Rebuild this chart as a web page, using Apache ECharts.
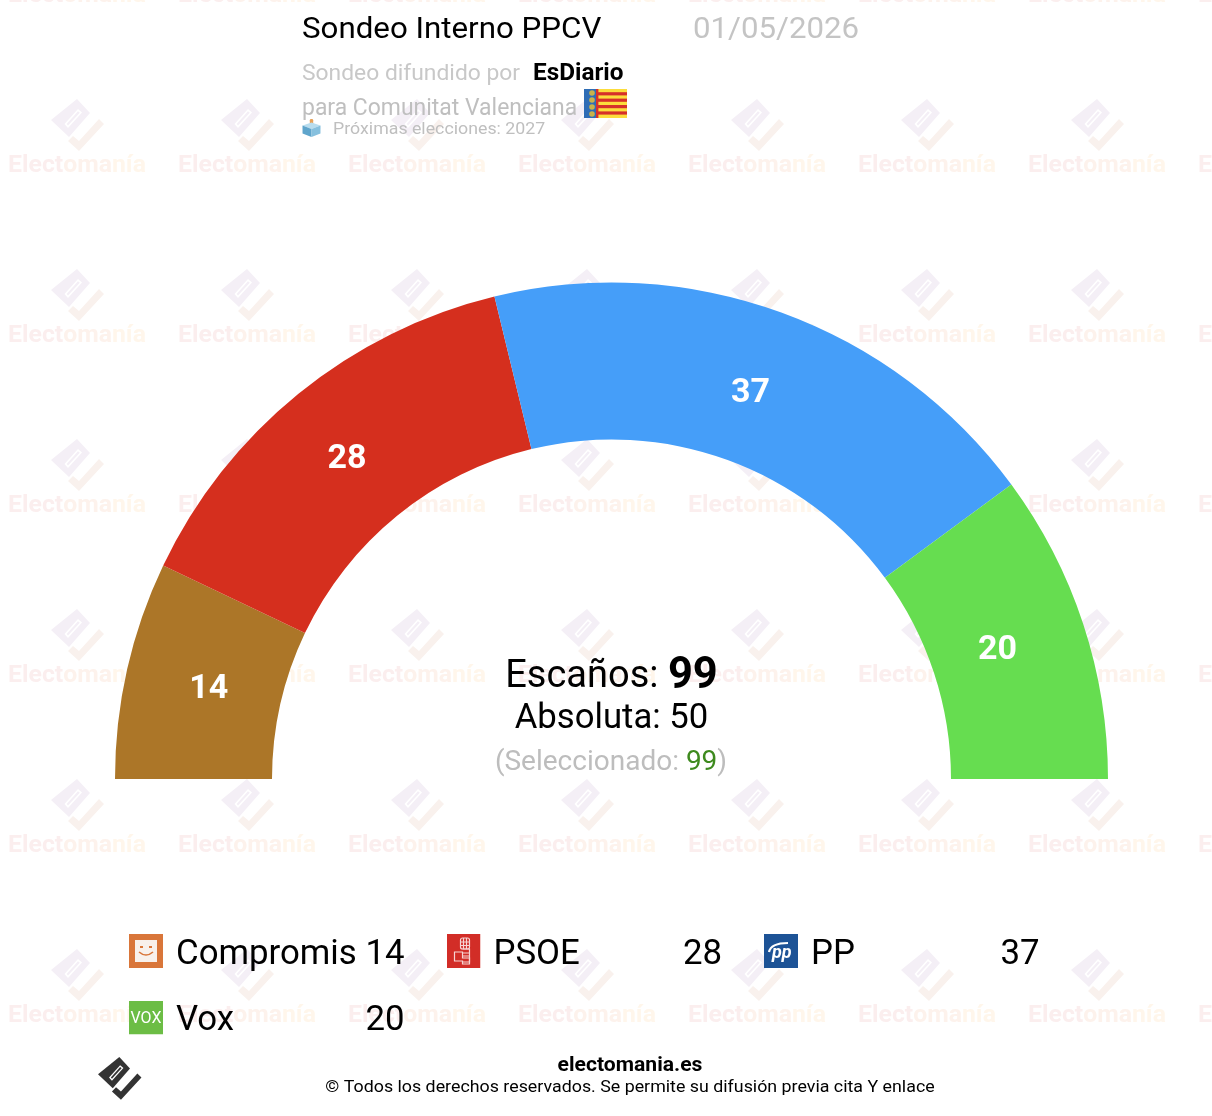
<!DOCTYPE html>
<html><head><meta charset="utf-8">
<style>html,body{margin:0;padding:0;background:#fff}#c{width:1212px;height:1116px}</style>
<script src="https://cdn.jsdelivr.net/npm/echarts@6/dist/echarts.min.js"></script>
</head><body><div id="c"></div>
<script>
const parties = ['Compromis','PSOE','PP','Vox'];
const seats = [14,28,37,20];
const colors = ['#AC7628','#D52F1E','#459EF9','#66DD50'];
const totalSeats = 99, majority = 50, selectedSeats = 99;
const FONT = 'Roboto';

function svgUri(s){return 'image://data:image/svg+xml;charset=utf-8,'+encodeURIComponent(s);}
const S = '<svg xmlns="http://www.w3.org/2000/svg" width="102" height="102" viewBox="0 0 34 34">';
const icons = {
 Compromis: S+'<rect width="34" height="34" fill="#D9763A"/><rect x="6" y="6" width="22" height="22" fill="#F8F1EC"/><rect x="11" y="12" width="3" height="2" fill="#D9763A"/><rect x="20" y="12" width="3" height="2" fill="#D9763A"/><path d="M10 18 Q17 24 24 18" stroke="#D9763A" stroke-width="1.6" fill="none"/></svg>',
 PSOE: S+'<rect width="34" height="34" fill="#D22D27"/><g fill="none" stroke="#F6D5D3" stroke-width="1.2"><rect x="14" y="4" width="9" height="11" rx="2"/><path d="M14 8h9M14 11.5h9M17 4v11M20 4v11"/><path d="M16 15h7v13h-7"/><path d="M8 18h8v6h7v6h-7v-3H8z"/><path d="M16 19h7M16 22h7"/></g></svg>',
 PP: S+'<rect width="34" height="34" fill="#1D5396"/><path d="M5 18 Q7 9 24 9" stroke="#fff" stroke-width="2.2" fill="none"/><text x="8" y="24" font-family="Roboto" font-weight="700" font-style="italic" font-size="18" fill="#fff">pp</text></svg>',
 Vox: S+'<rect width="34" height="34" fill="#6CBD45"/><text x="17" y="22.5" text-anchor="middle" font-family="Roboto" font-size="16" fill="#fff">VOX</text></svg>'
};
const flag = '<svg xmlns="http://www.w3.org/2000/svg" width="129" height="87" viewBox="0 0 43 29"><rect width="43" height="29" fill="#FCDD3C"/><g fill="#D6302A"><rect x="14" y="3.2" width="29" height="3.2"/><rect x="14" y="9.6" width="29" height="3.2"/><rect x="14" y="16" width="29" height="3.2"/><rect x="14" y="22.4" width="29" height="3.2"/></g><rect width="12" height="29" fill="#2F6DB5"/><rect x="12" width="2.4" height="29" fill="#D6302A"/><g fill="#C9B24A"><circle cx="8" cy="4" r="2.8"/><circle cx="8" cy="11" r="2.8"/><circle cx="8" cy="18" r="2.8"/><circle cx="8" cy="25" r="2.8"/></g></svg>';
const ballot = '<svg xmlns="http://www.w3.org/2000/svg" width="54" height="54" viewBox="0 0 18 18"><rect x="7.4" y="0" width="3.2" height="6" rx="1.2" fill="#E8A35A"/><path d="M9 3.5 17.5 6.5 9 10 .5 6.5z" fill="#B9DDEE"/><path d="M.5 6.5 9 10v8L.5 14.5z" fill="#5FA5CC"/><path d="M17.5 6.5 9 10v8l8.5-3.5z" fill="#86C0DE"/></svg>';

const logoBody = [[26,0],[39,14],[18,38],[0,21]];
const logoSlit = [[27,10],[31,13.5],[17,29],[13.5,25]];
const logoSlitInner = [[27,12.3],[28.8,13.8],[17,26.4],[15.7,25]];
const logoCheck = [[48,20],[53,25],[28,52],[17,42],[22,37],[28,42]];
function logo(x,y,k,body,check,slit){
  return {type:'group',x,y,scaleX:k,scaleY:k,silent:true,children:[
    {type:'polygon',shape:{points:logoBody},style:{fill:body}},
    {type:'polygon',shape:{points:logoSlit},style:{fill:slit}},
    {type:'polygon',shape:{points:logoSlitInner},style:{fill:body}},
    {type:'polygon',shape:{points:logoCheck},style:{fill:check}}
  ]};
}
const marks = [];
const wmRich = {
  a:{font:'700 24.8px '+FONT,fill:'#FBEEEE'},
  b:{font:'700 24.8px '+FONT,fill:'#FDF2EC'},
  c:{font:'700 24.8px '+FONT,fill:'#FFF6EB'}
};
[-7,163,333,503,673,843,1013].forEach(rowY=>{
  [8,178,348,518,688,858,1028,1198].forEach(colX=>{
    marks.push(logo(colX+43,rowY-64,1,'#F4EFF6','#F9F1ED','#FFFFFF'));
    marks.push({type:'text',x:colX,y:rowY+3,silent:true,style:{text:'{a|Elect}{b|oma}{c|nía}',rich:wmRich,verticalAlign:'middle'}});
  });
});

function txt(x,y,text,size,fill,o){
  o=o||{};
  return {type:'text',x,y,z:10,silent:true,scaleX:o.sx||1,style:{text,font:(o.weight||400)+' '+size+'px '+FONT,fill,verticalAlign:'middle',align:o.align||'left'}};
}
const seatLookup = Object.fromEntries(parties.map((p,i)=>[p,seats[i]]));
const labelNudgeX = [8,1,-5,-14], labelNudgeY = [3,7,10,3];

const chart = echarts.init(document.getElementById('c'));
chart.setOption({
  animation:false,
  textStyle:{fontFamily:FONT},
  legend:{
    left:129,top:930,width:960,padding:0,orient:'horizontal',selectedMode:false,
    itemWidth:34,itemHeight:34,itemGap:24,
    data:parties.map(p=>({name:p,icon:svgUri(icons[p])})),
    formatter:n=>`{n|${n}}{v|${seatLookup[n]}}`,
    textStyle:{rich:{
      n:{fontFamily:FONT,fontSize:34.8,color:'#000',width:189.5,height:34,lineHeight:40,align:'left',padding:[8,0,0,8]},
      v:{fontFamily:FONT,fontSize:34.8,color:'#000',width:39,height:34,lineHeight:40,align:'right',padding:[8,18,0,0]}
    }}
  },
  graphic:{elements:[
    ...marks,
    txt(302,30,'Sondeo Interno PPCV',30,'#000',{sx:1.0426}),
    txt(693,30,'01/05/2026',30,'#C4C4C4',{sx:1.04}),
    txt(302,74,'Sondeo difundido por',22.5,'#C8C8C8',{sx:1.015}),
    txt(533,74,'EsDiario',23.5,'#000',{weight:700,sx:1.035}),
    txt(302,109,'para Comunitat Valenciana',23,'#BFBFBF',{sx:0.997}),
    {type:'image',x:584,y:89,z:10,silent:true,style:{image:'data:image/svg+xml;charset=utf-8,'+encodeURIComponent(flag),width:43,height:29}},
    {type:'image',x:302,y:119,z:10,silent:true,style:{image:'data:image/svg+xml;charset=utf-8,'+encodeURIComponent(ballot),width:19,height:18}},
    txt(333,130,'Próximas elecciones: 2027',17,'#BFBFBF',{sx:1.045}),
    {type:'text',x:611.5,y:677,z:10,silent:true,style:{
      text:`{a|Escaños: }{b|${totalSeats}}`,align:'center',verticalAlign:'middle',
      rich:{a:{font:'400 38px '+FONT,fill:'#000'},b:{font:'700 43.5px '+FONT,fill:'#000'}}}},
    txt(611.5,719,`Absoluta: ${majority}`,34.7,'#000',{align:'center'}),
    {type:'text',x:611,y:763,z:10,silent:true,style:{
      text:`{a|(Seleccionado: }{b|${selectedSeats}}{a|)}`,align:'center',verticalAlign:'middle',
      rich:{a:{font:'400 28px '+FONT,fill:'#BDBDBD'},b:{font:'400 28px '+FONT,fill:'#3E8A1E'}}}},
    logo(98,1057,0.82,'#333','#333','#fff'),
    txt(630,1066,'electomania.es',20,'#000',{align:'center',weight:700,sx:1.055}),
    txt(630,1088,'© Todos los derechos reservados. Se permite su difusión previa cita Y enlace',17,'#000',{align:'center',sx:1.048})
  ]},
  series:[{
    type:'pie',silent:true,
    center:[611.5,779],radius:[339.5,496.5],
    startAngle:180,endAngle:360,clockwise:true,
    color:colors,
    data:parties.map((p,i)=>({name:p,value:seats[i]})),
    label:{show:true,position:'inside',formatter:'{c}',color:'#fff',fontFamily:FONT,fontWeight:700,fontSize:34},
    labelLine:{show:false},
    labelLayout:p=>({dx:labelNudgeX[p.dataIndex],dy:labelNudgeY[p.dataIndex]}),
    itemStyle:{borderWidth:0}
  }]
});
</script></body></html>
